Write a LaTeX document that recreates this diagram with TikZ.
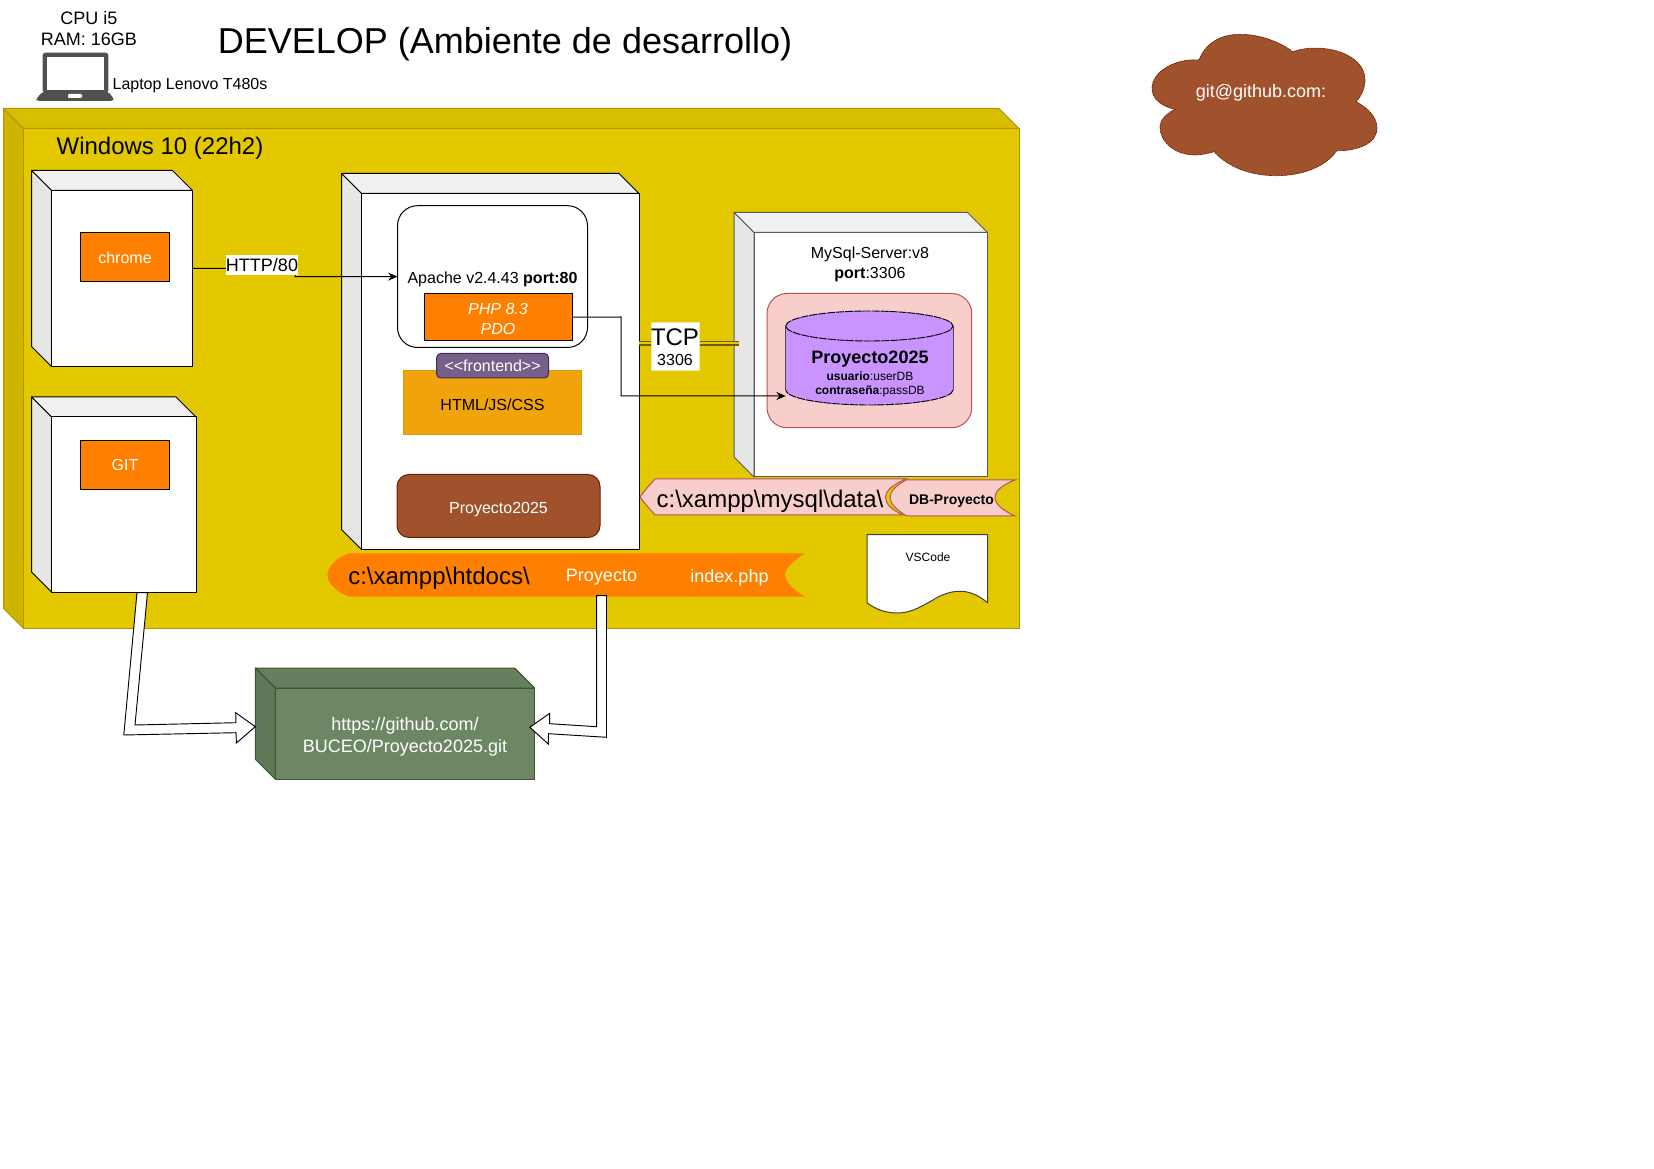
\documentclass[tikz,border=0pt]{standalone}
\usepackage{fontspec}
\setmainfont{Liberation Sans}
\usetikzlibrary{arrows.meta}
\definecolor{ybox}{HTML}{E3C800}
\definecolor{ytop}{HTML}{D8BE00}
\definecolor{yside}{HTML}{CCB400}
\definecolor{ystroke}{HTML}{B09500}
\definecolor{gbox}{HTML}{6D8764}
\definecolor{gtop}{HTML}{667F5E}
\definecolor{gside}{HTML}{5F7757}
\definecolor{gstroke}{HTML}{3A5431}
\definecolor{wside}{HTML}{E6E6E6}
\definecolor{wtop}{HTML}{F1F1F1}
\definecolor{oran}{HTML}{FF8000}
\definecolor{brownf}{HTML}{A0522D}
\definecolor{browns}{HTML}{6D1F00}
\definecolor{pinkf}{HTML}{F8CECC}
\definecolor{pinks}{HTML}{B85450}
\definecolor{purpf}{HTML}{C994FF}
\definecolor{frontf}{HTML}{76608A}
\definecolor{fronts}{HTML}{432D57}
\definecolor{htmlf}{HTML}{F0A30A}
\definecolor{htmls}{HTML}{DB9A10}
\definecolor{lapt}{HTML}{505050}
\definecolor{tcpline}{HTML}{6A5E00}
\newcommand\facenode[9]{%
  \filldraw[fill=#7,draw=#9,line width=.75pt,line join=round]
    (#2,#3) -- ({#4-20},#3) -- (#4,{#3+20}) -- ({#2+20},{#3+20}) -- cycle;
  \filldraw[fill=#8,draw=#9,line width=.75pt,line join=round]
    (#2,#3) -- ({#2+20},{#3+20}) -- ({#2+20},#5) -- (#2,{#5-20}) -- cycle;
  \node[rectangle,draw=#9,fill=#6,line width=.75pt,inner sep=0pt,outer sep=0pt,
    minimum width={(#4-#2-20)*.75pt},minimum height={(#5-#3-20)*.75pt}]
    (#1) at ({(#2+20+#4)/2},{(#3+20+#5)/2}) {};}
\newcommand\boxnode[6]{%
  \node[#6,inner sep=0pt,outer sep=0pt,
    minimum width={(#4-#2)*.75pt},minimum height={(#5-#3)*.75pt}]
    (#1) at ({(#2+#4)/2},{(#3+#5)/2}) {};}
\tikzset{
  x=.75pt,y=-.75pt,
  lbl/.style={inner sep=0pt,outer sep=0pt,align=center,text depth=0pt},
  px12/.style={lbl,font=\fontsize{9}{10.5}\selectfont},
  px14/.style={lbl,font=\fontsize{10.5}{12}\selectfont},
  px16/.style={lbl,font=\fontsize{12}{15}\selectfont},
  px18/.style={lbl,font=\fontsize{13.5}{16.5}\selectfont},
  px24/.style={lbl,font=\fontsize{18}{21}\selectfont},
  orangebox/.style={rectangle,draw=black,fill=oran,line width=.75pt},
  flexarrow/.style={draw=black,fill=white,line width=.7pt,line join=miter},
  thinarrow/.style={draw=black,line width=.75pt,-{Stealth[length=7pt,width=6pt]}},
  dbedge/.style={black,line width=.7pt,dash pattern=on 6pt off .7pt},
}
\begin{document}
\begin{tikzpicture}
\useasboundingbox (0,0) rectangle (1654,1169);
% Title and laptop
\node[px18] (cpu) at (89,17.5) {CPU i5};
\node[px18] (ram) at (89,39.5) {RAM: 16GB};
\node[lbl,font=\fontsize{27}{32}\selectfont] (title) at (505,40) {DEVELOP (Ambiente de desarrollo)};
\node[px16] (lapname) at (190,84) {Laptop Lenovo T480s};
\fill[lapt,rounded corners=2pt] (42.7,52.7) -- (108.3,52.7) -- (108.3,93) -- (42.7,93) -- cycle;
\fill[white] (46.7,56.7) rectangle (104,90);
\fill[lapt,rounded corners=1.5pt] (42.7,91.7) -- (108.3,91.7) -- (114,99) -- (113,100.8) -- (37,100.8) -- (36,99) -- cycle;
\fill[white,rounded corners=.8pt] (68,94) rectangle (82,98);
% Windows host
\facenode{win}{3.5}{108.5}{1019}{628.5}{ybox}{ytop}{yside}{ystroke}
\node[px24] (winlabel) at (160,146) {Windows 10 (22h2)};
% Chrome
\facenode{chromehost}{31.5}{170.5}{192.5}{366.5}{white}{wtop}{wside}{black}
\boxnode{chrome}{80.7}{232.5}{169.3}{282}{orangebox}
\node[px16,text=white] at (125,257.5) {chrome};
% GIT
\facenode{githost}{31.5}{397}{196}{592}{white}{wtop}{wside}{black}
\boxnode{git}{80.7}{441}{169.3}{489.5}{orangebox}
\node[px16,text=white] at (git) {GIT};
% Apache host
\facenode{apache}{341.5}{173.5}{639}{549.5}{white}{wtop}{wside}{black}
\boxnode{apachebox}{397.5}{205.7}{587.5}{347.5}{draw=black,fill=white,line width=.75pt,rounded corners=20pt*.75}
\node[px16] (apachetext) at (492.5,277.5) {Apache v2.4.43 \textbf{port:80}};
\boxnode{php}{424.6}{293.5}{572}{341}{orangebox}
\node[px16,text=white,font=\fontsize{12}{15}\selectfont\itshape] at (498,318.5) {PHP 8.3\\PDO};
\boxnode{html}{403.5}{370.7}{581.5}{435}{draw=htmls,fill=htmlf,line width=.75pt}
\node[px16] at (492.5,405) {HTML/JS/CSS};
\boxnode{frontend}{436.7}{353.5}{548.5}{378}{draw=fronts,fill=frontf,line width=.75pt,rounded corners=3pt}
\node[px16,text=white] at (frontend) {<{}<frontend>{}>};
\boxnode{proyecto}{397}{474.5}{600}{537.5}{draw=browns,fill=brownf,line width=.75pt,rounded corners=9pt}
\node[px16,text=white] at (498.5,507.5) {Proyecto2025};
% MySQL host
\facenode{mysql}{734}{212.5}{987.5}{477}{white}{wtop}{wside}{black!65}
\node[px16] at (870,262.5) {MySql-Server:v8\\\textbf{port}:3306};
\boxnode{pinkbox}{767}{293.5}{971.7}{427.7}{draw=pinks,fill=pinkf,line width=.75pt,rounded corners=15pt}
\boxnode{db}{785.7}{311}{953}{405}{}
\fill[purpf]
  (785.7,326) arc[start angle=180,end angle=0,x radius=83.65*.75pt,y radius=15*.75pt]
  -- (953,390) arc[start angle=360,end angle=180,x radius=83.65*.75pt,y radius=15*.75pt] -- cycle;
\draw[dbedge]
  (785.7,326) arc[start angle=180,end angle=-180,x radius=83.65*.75pt,y radius=15*.75pt];
\draw[dbedge]
  (953,390) arc[start angle=360,end angle=180,x radius=83.65*.75pt,y radius=15*.75pt];
\draw[black!70,line width=.75pt] (785.7,326) -- (785.7,390);
\draw[black!70,line width=.75pt] (953,326) -- (953,390);
\node[lbl,font=\fontsize{13.5}{16}\selectfont\bfseries] at (870,357) {Proyecto2025};
\node[px12] at (870,383) {\textbf{usuario}:userDB\\\textbf{contraseña}:passDB};
% Banners
\filldraw[fill=pinkf,draw=pinks,line width=.75pt] (655,479) -- (906,479)
  .. controls (892,485) and (885.5,491) .. (885.5,497.5) .. controls (885.5,504) and (892,510) .. (903,515)
  -- (655,515) .. controls (649,508) and (644,503) .. (640,497) .. controls (644,491) and (649,486) .. (655,479) -- cycle;
\node[px24] (mysqlpath) at (770,499) {c:\textbackslash xampp\textbackslash mysql\textbackslash data\textbackslash};
\filldraw[fill=pinkf,draw=pinks,line width=.75pt] (906,480) -- (1015,480)
  .. controls (1002,485) and (995,491) .. (995,497.5) .. controls (995,504) and (1002,510) .. (1015,516)
  -- (906.7,516) .. controls (897,510) and (890,504) .. (890,497.5) .. controls (890,491) and (897,485) .. (906,480) -- cycle;
\node[px14,font=\fontsize{10.5}{12}\selectfont\bfseries] (dbpath) at (951.5,499.5) {DB-Proyecto};
\filldraw[fill=oran,draw=oran,line width=.75pt] (348.5,554) -- (803,554)
  .. controls (792,562) and (784.6,568) .. (784.6,575) .. controls (784.6,582) and (792,589) .. (803,596)
  -- (348.5,596) .. controls (338,592) and (328,584) .. (328,575) .. controls (328,566) and (338,558) .. (348.5,554) -- cycle;
\node[px24] (htdocs) at (439,576) {c:\textbackslash xampp\textbackslash htdocs\textbackslash};
\node[px18,text=white] (proyfolder) at (601.5,575) {Proyecto};
\node[px18,text=white] (indexphp) at (729.5,576) {index.php};
% VSCode document
\filldraw[fill=white,draw=black!75,line width=.75pt] (867,534.7) -- (987.6,534.7) -- (987.6,602.7)
  .. controls (972,590) and (958,588) .. (940,596) .. controls (922,606) and (912,613) .. (897.6,613)
  .. controls (885,613) and (875,609) .. (867,602.7) -- cycle;
\node[px12] (vscode) at (928,557) {VSCode};
% Connectors
\coordinate (httpbend) at (295,268);
\draw[thinarrow] ([yshift=7.5pt]chromehost.east) -- (httpbend) |- (apachebox.west);
\node[px18,fill=white,minimum width=54pt,minimum height=15pt] (httplabel) at (262,265) {HTTP/80};
\coordinate (phpbend) at (621,317);
\draw[thinarrow] (php.east) -- (phpbend) |- ([yshift=-28.5pt]db.west);
\coordinate (tcpy) at (0,343.3);
\draw[draw=tcpline,double=ybox,double distance=1.5pt,line width=1pt]
  (apache.east |- tcpy) -- ([xshift=-11.25pt]mysql.west |- tcpy);
\node[fill=white,draw=ybox!40,line width=.5pt,minimum width=36pt,minimum height=36pt,inner sep=0pt] (tcpbox) at (675,346) {};
\node[px24] (tcplabel) at (675,337) {TCP};
\node[px16] (tcpport) at (675,360) {3306};
% Git hosting
\facenode{github}{255.3}{668}{534.6}{779.3}{gbox}{gtop}{gside}{gstroke}
\node[px18,text=white] at (405,734.5) {https://github.com/\\BUCEO/Proyecto2025.git};
\coordinate (flexa) at (255.3,726.7);
\filldraw[flexarrow] (137,592.7) -- (123.8,735) -- (236,732.7) -- (236.4,743) -- (flexa)
  -- (235.7,712.7) -- (236,722.7) -- (135,725) -- (147.5,592.7) -- cycle;
\filldraw[flexarrow] (596.6,595.7) -- (596.6,726.7) -- (549.7,723.7) -- (549.7,713.3) -- (529.8,727.3)
  -- (548.3,744) -- (548.5,733.7) -- (606.5,737.3) -- (606.5,595.7) -- cycle;
% Cloud
\filldraw[fill=brownf,draw=browns,line width=.5pt,dash pattern=on 1.5pt off .5pt] (1199,60)
  .. controls (1206,42) and (1222,34.3) .. (1240,34.3)
  .. controls (1260,34.3) and (1280,42) .. (1292.7,51.7)
  .. controls (1320,42) and (1365,52) .. (1365,80)
  .. controls (1365,88) and (1362,95) .. (1356,101.7)
  .. controls (1368,108) and (1377,117) .. (1377,128)
  .. controls (1377,145) and (1355,151) .. (1336.7,150.7)
  .. controls (1325,168) and (1300,175.7) .. (1276.7,175.7)
  .. controls (1250,175.7) and (1228,167) .. (1214,151.7)
  .. controls (1206,154) and (1200,155) .. (1195,155)
  .. controls (1175,155) and (1160,142) .. (1160,127)
  .. controls (1160,120) and (1166,114) .. (1175,109.3)
  .. controls (1160,106) and (1152,98) .. (1152,88.3)
  .. controls (1152,72) and (1175,58) .. (1199,60) -- cycle;
\node[px18,text=white] (gitcloud) at (1261,91) {git@github.com:};
\end{tikzpicture}
\end{document}
